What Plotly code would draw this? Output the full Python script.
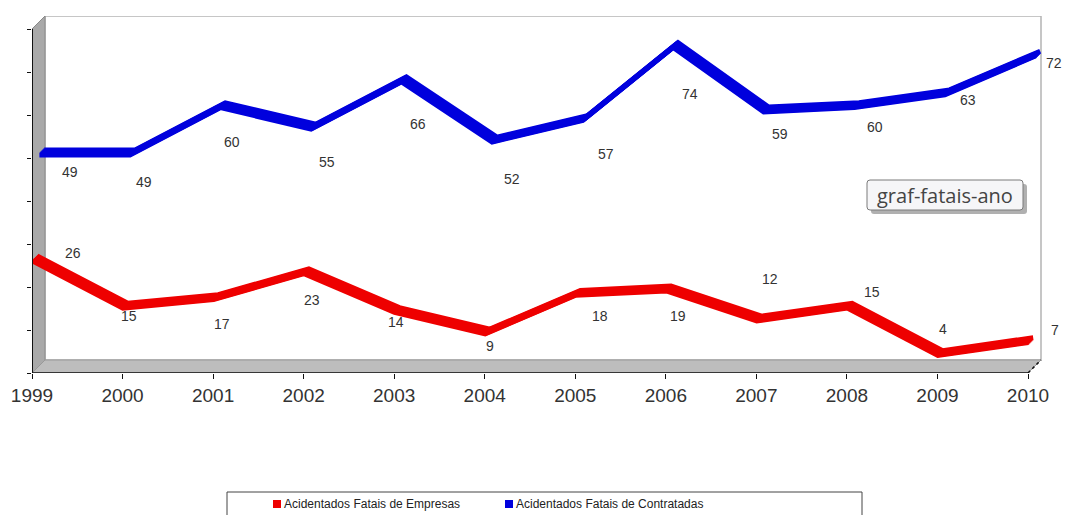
import plotly.graph_objects as go

# ---------------- data ----------------
years = [1999, 2000, 2001, 2002, 2003, 2004, 2005, 2006, 2007, 2008, 2009, 2010]
empresas = [26, 15, 17, 23, 14, 9, 18, 19, 12, 15, 4, 7]
contratadas = [49, 49, 60, 55, 66, 52, 57, 74, 59, 60, 63, 72]
series_names = ["Acidentados Fatais de Empresas", "Acidentados Fatais de Contratadas"]
y_ticks = [0, 10, 20, 30, 40, 50, 60, 70, 80]
chart_label = "graf-fatais-ano"

# ---------------- layout constants ----------------
W, H = 1065, 515
ML, MR, MT, MB = 32, 20, 16, 142
PW = W - ML - MR
PH = H - MT - MB
PX_YEAR = 996 / 11          # px per year on front plane
PX_UNIT = 344 / 80          # px per value unit
X0 = years[0]
X1 = X0 + PW / PX_YEAR
Y0 = 0
Y1 = PH / PX_UNIT
DEPTH = 13                  # 3D depth in px
DX = DEPTH / PX_YEAR
DY = DEPTH / PX_UNIT

RED = "#ee0000"
BLUE = "#0000dd"

# label offsets in px (dx right, dy down) relative to the front point
red_off = [(41, -8), (6, 7), (9, 24), (8, 26), (2, 9), (5, 12), (25, 20), (12, 25),
           (14, -42), (25, -17), (6, -27), (27, -13)]
blue_off = [(38, 10), (21, 20), (19, 27), (23, 25), (24, 35), (27, 30), (31, 26),
            (24, 39), (24, 15), (28, 12), (31, -2), (26, 0)]

fig = go.Figure()
layout_axes = {}

red_depths = [5.2, 4.2, 3.2, 2.2, 1.2, 0.4]
blue_depths = [12.2, 11.2, 10.2, 9.2, 8.2, 7.4]

k = 2
for vals, color, depths in [(empresas, RED, red_depths), (contratadas, BLUE, blue_depths)]:
    for d in depths:
        sx = d / PX_YEAR
        sy = d / PX_UNIT
        layout_axes[f"xaxis{k}"] = dict(overlaying="x", range=[X0 - sx, X1 - sx],
                                        visible=False, fixedrange=True)
        layout_axes[f"yaxis{k}"] = dict(overlaying="y", range=[Y0 - sy, Y1 - sy],
                                        visible=False, fixedrange=True)
        fig.add_trace(go.Scatter(x=years, y=vals, mode="lines", xaxis=f"x{k}", yaxis=f"y{k}",
                                 line=dict(color=color, width=5), showlegend=False,
                                 hoverinfo="skip"))
        k += 1

shapes = []
# back wall
shapes.append(dict(type="rect", xref="x", yref="y", x0=X0 + DX, x1=years[-1] + DX,
                   y0=Y0 + DY, y1=80 + DY, fillcolor="white",
                   line=dict(color="#b4b4b4", width=1.5), layer="below"))
# left wall
shapes.append(dict(type="path", xref="x", yref="y",
                   path=f"M {X0} 0 L {X0} 80 L {X0 + DX} {80 + DY} L {X0 + DX} {DY} Z",
                   fillcolor="#a9a9a9", line=dict(color="#8a8a8a", width=1), layer="below"))
# floor
shapes.append(dict(type="path", xref="x", yref="y",
                   path=f"M {X0} 0 L {X0 + DX} {DY} L {years[-1] + DX} {DY} L {years[-1]} 0 Z",
                   fillcolor="#bdbdbd", line=dict(color="#999999", width=1), layer="below"))
# front axes lines
shapes.append(dict(type="line", xref="x", yref="y", x0=X0, x1=X0, y0=0, y1=80,
                   line=dict(color="#111", width=2)))
shapes.append(dict(type="line", xref="x", yref="y", x0=X0, x1=years[-1], y0=0, y1=0,
                   line=dict(color="#111", width=1.5)))
shapes.append(dict(type="line", xref="x", yref="y", x0=years[-1], x1=years[-1] + DX,
                   y0=0, y1=DY, line=dict(color="#111", width=1.5, dash="dot")))

annotations = []
for yr, v, (ox, oy) in zip(years, empresas, red_off):
    annotations.append(dict(x=yr, y=v, xref="x", yref="y", text=str(v), showarrow=False,
                            xshift=ox, yshift=-oy, font=dict(size=14, color="#333",
                                                             family="Liberation Sans")))
for yr, v, (ox, oy) in zip(years, contratadas, blue_off):
    annotations.append(dict(x=yr, y=v, xref="x", yref="y", text=str(v), showarrow=False,
                            xshift=ox, yshift=-oy, font=dict(size=14, color="#333",
                                                             family="Liberation Sans")))

def px_to_paper_x(px):
    return (px - ML) / PW

def px_to_paper_y(py):
    return (H - MB - py) / PH

def rounded_rect(x0, y0, x1, y1, r):
    X = px_to_paper_x
    Y = px_to_paper_y
    return (f"M {X(x0 + r)} {Y(y0)} L {X(x1 - r)} {Y(y0)} Q {X(x1)} {Y(y0)} {X(x1)} {Y(y0 + r)} "
            f"L {X(x1)} {Y(y1 - r)} Q {X(x1)} {Y(y1)} {X(x1 - r)} {Y(y1)} "
            f"L {X(x0 + r)} {Y(y1)} Q {X(x0)} {Y(y1)} {X(x0)} {Y(y1 - r)} "
            f"L {X(x0)} {Y(y0 + r)} Q {X(x0)} {Y(y0)} {X(x0 + r)} {Y(y0)} Z")

# chart label box with shadow
shapes.append(dict(type="path", xref="paper", yref="paper",
                   path=rounded_rect(871, 184, 1027, 214, 3),
                   fillcolor="rgba(80,80,80,0.45)", line=dict(width=0)))
shapes.append(dict(type="path", xref="paper", yref="paper",
                   path=rounded_rect(867, 180, 1023, 210, 3),
                   fillcolor="#f6f6f8", line=dict(color="#7a7a7a", width=1)))
annotations.append(dict(xref="paper", yref="paper", x=px_to_paper_x(945), y=px_to_paper_y(195),
                        xanchor="center", yanchor="middle",
                        text=chart_label, showarrow=False,
                        font=dict(size=20, color="#444", family="Open Sans")))

# legend
shapes.append(dict(type="rect", xref="paper", yref="paper",
                   x0=px_to_paper_x(227), x1=px_to_paper_x(862),
                   y0=px_to_paper_y(530), y1=px_to_paper_y(492),
                   fillcolor="white", line=dict(color="#444", width=1)))
for name, color, lx in [(series_names[0], RED, 273), (series_names[1], BLUE, 505)]:
    shapes.append(dict(type="rect", xref="paper", yref="paper",
                       x0=px_to_paper_x(lx), x1=px_to_paper_x(lx + 8),
                       y0=px_to_paper_y(508), y1=px_to_paper_y(500),
                       fillcolor=color, line=dict(width=0)))
    annotations.append(dict(xref="paper", yref="paper", x=px_to_paper_x(lx + 9),
                            y=px_to_paper_y(504), xanchor="left", yanchor="middle",
                            showarrow=False, text=name,
                            font=dict(size=12, color="#222", family="Liberation Sans")))

fig.update_layout(
    width=W, height=H,
    margin=dict(l=ML, r=MR, t=MT, b=MB),
    paper_bgcolor="white", plot_bgcolor="white",
    showlegend=False,
    xaxis=dict(range=[X0, X1], tickvals=years, ticktext=[str(y) for y in years],
               ticks="outside", ticklen=5, tickcolor="#111", showgrid=False, zeroline=False,
               showline=False, fixedrange=True,
               tickfont=dict(size=19, color="#333", family="Liberation Sans")),
    yaxis=dict(range=[Y0, Y1], tickvals=y_ticks, showticklabels=False, ticks="outside",
               ticklen=4, tickcolor="#111", showgrid=False, zeroline=False, showline=False,
               fixedrange=True),
    shapes=shapes,
    annotations=annotations,
    **layout_axes,
)

fig.write_html("out.html", config={"displayModeBar": False},
               post_script="document.body.style.margin='0px';")
